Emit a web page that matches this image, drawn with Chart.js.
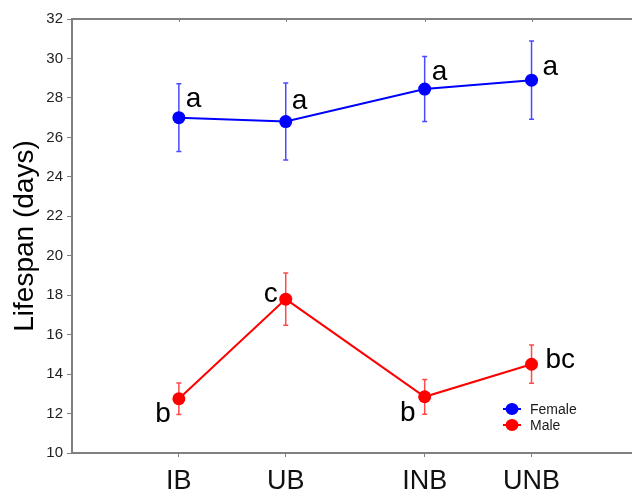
<!DOCTYPE html>
<html>
<head>
<meta charset="utf-8">
<script src="https://cdn.jsdelivr.net/npm/chart.js@4.4.1/dist/chart.umd.min.js"></script>
<style>
  html, body { margin: 0; padding: 0; background: #fff; }
  #wrap { width: 632px; height: 493px; }
</style>
</head>
<body>
<div id="wrap"><canvas id="chart" width="632" height="493"></canvas></div>
<script>
// treatments and where they sit on the x axis (not evenly spaced in the figure)
const categories = ['IB', 'UB', 'INB', 'UNB'];
const xValues = [1, 2, 3.3, 4.3];

// mean lifespan (days) and error half-widths
const femaleMean = [27.0, 26.8, 28.45, 28.9];
const femaleErr = [1.72, 1.95, 1.65, 1.98];
const maleMean = [12.75, 17.8, 12.85, 14.5];
const maleErr = [0.8, 1.33, 0.88, 0.97];

// significance letters
const femaleLetters = ['a', 'a', 'a', 'a'];
const maleLetters = ['b', 'c', 'b', 'bc'];

const yTicksMin = 10, yTicksMax = 32;

const FONT = "Arial, 'Liberation Sans', sans-serif";
const BLUE = '#0000ff', RED = '#ff0000';

// letter placement relative to each point: [dx, dy, align]
const femaleLetterPos = [[7, -11, 'left'], [6, -13, 'left'], [7, -9, 'left'], [11, -5, 'left']];
const maleLetterPos = [[-8, 23, 'right'], [-8, 3, 'right'], [-9, 24, 'right'], [14, 4, 'left']];

function toPoints(means){
  return means.map((m, i) => ({x: xValues[i], y: m}));
}

const extras = {
  id: 'extras',
  beforeDatasetsDraw(chart){
    const ctx = chart.ctx;
    const y = chart.scales.y;
    chart.data.datasets.forEach((ds, i) => {
      const meta = chart.getDatasetMeta(i);
      ctx.save();
      ctx.strokeStyle = ds.errColor;
      ctx.lineWidth = 1.5;
      meta.data.forEach((pt, j) => {
        const top = y.getPixelForValue(ds.means[j] + ds.errs[j]);
        const bot = y.getPixelForValue(ds.means[j] - ds.errs[j]);
        ctx.beginPath();
        ctx.moveTo(pt.x, top); ctx.lineTo(pt.x, bot);
        ctx.moveTo(pt.x - 2.5, top); ctx.lineTo(pt.x + 2.5, top);
        ctx.moveTo(pt.x - 2.5, bot); ctx.lineTo(pt.x + 2.5, bot);
        ctx.stroke();
      });
      ctx.restore();
    });
  },
  afterDatasetsDraw(chart){
    const ctx = chart.ctx;
    const area = chart.chartArea;
    const x = chart.scales.x;

    // top frame line with small inward ticks
    ctx.save();
    ctx.strokeStyle = '#808080';
    ctx.lineWidth = 2;
    ctx.beginPath();
    ctx.moveTo(area.left - 1, area.top);
    ctx.lineTo(area.right, area.top);
    ctx.stroke();
    ctx.lineWidth = 1;
    xValues.forEach(v => {
      const px = Math.round(x.getPixelForValue(v)) + 0.5;
      ctx.beginPath();
      ctx.moveTo(px, area.top);
      ctx.lineTo(px, area.top + 3);
      ctx.stroke();
    });
    ctx.restore();

    // letters
    ctx.save();
    ctx.fillStyle = '#000';
    ctx.font = '28px ' + FONT;
    ctx.textBaseline = 'alphabetic';
    chart.data.datasets.forEach((ds, i) => {
      const meta = chart.getDatasetMeta(i);
      meta.data.forEach((pt, j) => {
        const p = ds.letterPos[j];
        ctx.textAlign = p[2];
        ctx.fillText(ds.letters[j], pt.x + p[0], pt.y + p[1]);
      });
    });
    ctx.restore();

    // legend inside the plot
    ctx.save();
    ctx.font = '14px ' + FONT;
    ctx.textAlign = 'left';
    ctx.textBaseline = 'alphabetic';
    const lx = 512, ly = [409, 425];
    chart.data.datasets.forEach((ds, i) => {
      ctx.strokeStyle = ds.borderColor;
      ctx.fillStyle = ds.borderColor;
      ctx.lineWidth = 2;
      ctx.beginPath();
      ctx.moveTo(lx - 9, ly[i]); ctx.lineTo(lx + 9, ly[i]);
      ctx.stroke();
      ctx.beginPath();
      ctx.ellipse(lx, ly[i], 6.5, 6, 0, 0, Math.PI * 2);
      ctx.fill();
      ctx.fillStyle = '#1a1a1a';
      ctx.fillText(ds.label, 530, ly[i] + 5);
    });
    ctx.restore();
  }
};

new Chart(document.getElementById('chart'), {
  type: 'line',
  data: {
    datasets: [
      {
        label: 'Female', data: toPoints(femaleMean), means: femaleMean, errs: femaleErr,
        letters: femaleLetters, letterPos: femaleLetterPos,
        borderColor: BLUE, backgroundColor: BLUE, errColor: '#4a4aff',
        borderWidth: 2, pointRadius: 6.5, pointBorderWidth: 0, tension: 0
      },
      {
        label: 'Male', data: toPoints(maleMean), means: maleMean, errs: maleErr,
        letters: maleLetters, letterPos: maleLetterPos,
        borderColor: RED, backgroundColor: RED, errColor: '#ff4a4a',
        borderWidth: 2, pointRadius: 6.5, pointBorderWidth: 0, tension: 0
      }
    ]
  },
  options: {
    responsive: false,
    animation: false,
    layout: { autoPadding: false, padding: { top: 19, right: 0, bottom: 0, left: 0 } },
    plugins: { legend: { display: false }, tooltip: { enabled: false } },
    scales: {
      x: {
        type: 'linear',
        min: 0, max: 5.24,
        afterBuildTicks: s => { s.ticks = xValues.map(v => ({value: v})); },
        afterFit: s => { s.height = 40; s.paddingLeft = 0; s.paddingRight = 0; },
        ticks: {
          callback: (v, i) => categories[i],
          font: { size: 27, family: FONT },
          color: '#111',
          padding: 8,
          maxRotation: 0,
          autoSkip: false
        },
        grid: { drawOnChartArea: false, tickLength: 4, color: '#808080' },
        border: { color: '#808080', width: 2 }
      },
      y: {
        min: yTicksMin, max: yTicksMax,
        afterFit: s => { s.width = 72; },
        ticks: {
          stepSize: 1,
          callback: v => (v % 2 === 0 ? v : ''),
          font: { size: 15, family: FONT },
          color: '#222',
          padding: 4
        },
        grid: { drawOnChartArea: false, tickLength: 5, color: '#808080' },
        border: { color: '#808080', width: 2 },
        title: {
          display: true,
          text: 'Lifespan (days)',
          font: { size: 28, family: FONT },
          color: '#000',
          padding: { top: 8, bottom: 0 }
        }
      }
    }
  },
  plugins: [extras]
});
</script>
</body>
</html>
